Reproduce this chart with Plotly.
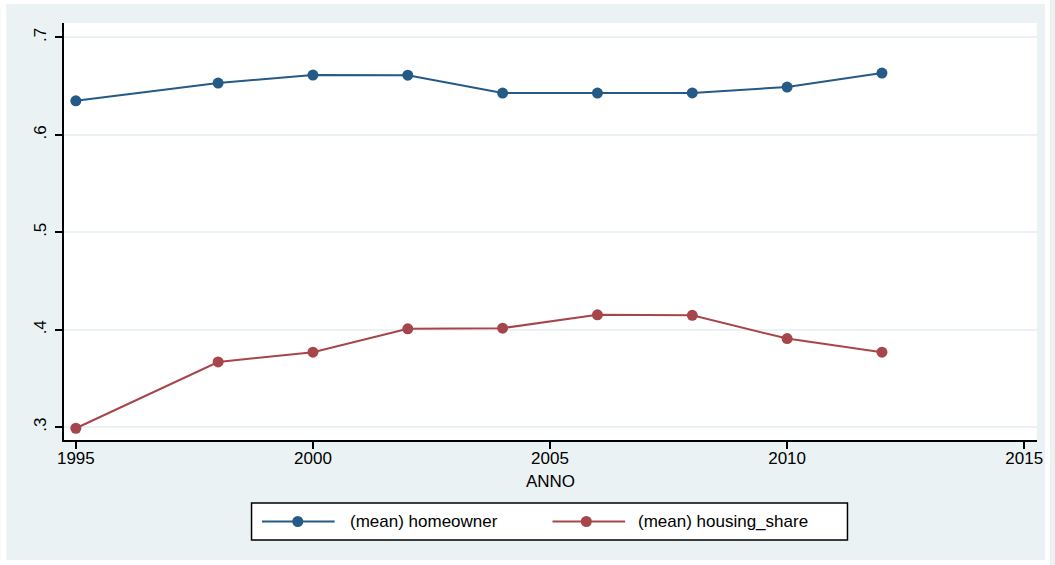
import plotly.graph_objects as go

# Survey years and yearly means
anno = [1995, 1998, 2000, 2002, 2004, 2006, 2008, 2010, 2012]
homeowner = [0.6349, 0.6531, 0.6613, 0.6612, 0.6428, 0.6428, 0.6430, 0.6490, 0.6633]
housing_share = [0.2990, 0.3670, 0.3770, 0.4010, 0.4017, 0.4154, 0.4148, 0.3910, 0.3770]

series_names = ["(mean) homeowner", "(mean) housing_share"]
x_ticks = [1995, 2000, 2005, 2010, 2015]
y_ticks = [0.3, 0.4, 0.5, 0.6, 0.7]
y_tick_text = [".3", ".4", ".5", ".6", ".7"]

NAVY = "#245a85"
MAROON = "#a6464b"
BG = "#eaf2f3"
FONT = "Liberation Sans, Arial, Helvetica, sans-serif"

W, H = 1055, 565
L, R, T, B = 64, 13, 23, 125
PW, PH = W - L - R, H - T - B


def px_x(p):
    return (p - L) / PW


def px_y(p):
    return (H - B - p) / PH


fig = go.Figure()
for name, vals, col in zip(series_names, [homeowner, housing_share], [NAVY, MAROON]):
    fig.add_trace(go.Scatter(
        x=anno, y=vals, name=name, mode="lines+markers",
        line=dict(color=col, width=2),
        marker=dict(color=col, size=11),
        showlegend=False, cliponaxis=False,
    ))

shapes = []
# white frame around the light graph region
for x0, x1, y0, y1 in [(0, 6, 0, H), (1050, W, 0, H), (0, W, 0, 4), (0, W, 560, H)]:
    shapes.append(dict(type="rect", xref="paper", yref="paper",
                       x0=px_x(x0), x1=px_x(x1), y0=px_y(y1), y1=px_y(y0),
                       fillcolor="white", line=dict(width=0), layer="below"))

# legend box
shapes.append(dict(type="rect", xref="paper", yref="paper",
                   x0=px_x(252.5), x1=px_x(851.5), y0=px_y(540), y1=px_y(503),
                   fillcolor="white", line=dict(color="black", width=1.5)))
legend_items = [
    (series_names[0], NAVY, 263, 336, 299, 349),
    (series_names[1], MAROON, 555, 628, 589, 639),
]
annotations = []
ly = 521.5
for name, col, lx0, lx1, mx, tx in legend_items:
    shapes.append(dict(type="line", xref="paper", yref="paper",
                       x0=px_x(lx0), x1=px_x(lx1), y0=px_y(ly), y1=px_y(ly),
                       line=dict(color=col, width=2)))
    shapes.append(dict(type="circle", xref="paper", yref="paper",
                       xsizemode="pixel", ysizemode="pixel",
                       xanchor=px_x(mx), yanchor=px_y(ly),
                       x0=-5.5, x1=5.5, y0=-5.5, y1=5.5,
                       fillcolor=col, line=dict(color=col, width=0)))
    annotations.append(dict(text=name, xref="paper", yref="paper",
                            x=px_x(tx), y=px_y(ly), xanchor="left", yanchor="middle",
                            showarrow=False, font=dict(size=17, color="black", family=FONT)))

fig.update_layout(
    width=W, height=H,
    margin=dict(l=L, r=R, t=T, b=B),
    paper_bgcolor=BG, plot_bgcolor="white",
    font=dict(family=FONT, size=17, color="black"),
    shapes=shapes, annotations=annotations,
    showlegend=False,
)
fig.update_xaxes(
    range=[1994.75, 2015.27], tickvals=x_ticks,
    showgrid=False, zeroline=False,
    showline=True, linecolor="black", linewidth=2,
    ticks="outside", ticklen=7, tickwidth=1.5, tickcolor="black",
    ticklabelstandoff=-5,
    title=dict(text="ANNO", standoff=8, font=dict(size=17)),
)
fig.update_yaxes(
    range=[0.28696, 0.7147], tickvals=y_ticks, ticktext=y_tick_text,
    tickangle=-90,
    showgrid=True, gridcolor=BG, gridwidth=1.5, zeroline=False,
    showline=True, linecolor="black", linewidth=2,
    ticks="outside", ticklen=7, tickwidth=1.5, tickcolor="black",
    ticklabelstandoff=2,
)

fig.write_html("out.html")
